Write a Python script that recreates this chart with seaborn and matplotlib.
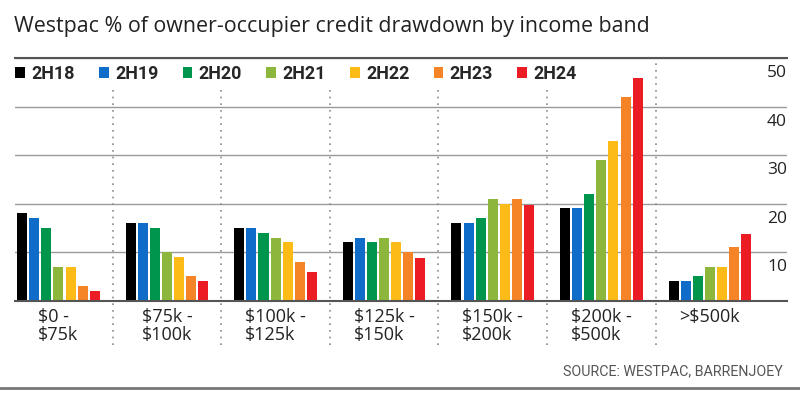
import pandas as pd
import matplotlib.pyplot as plt
import matplotlib.transforms as mtransforms
from matplotlib.lines import Line2D
import seaborn as sns

# ---- data ----
bands = ["$0 -\n$75k", "$75k -\n$100k", "$100k -\n$125k", "$125k -\n$150k",
         "$150k -\n$200k", "$200k -\n$500k", ">$500k"]
periods = ["2H18", "2H19", "2H20", "2H21", "2H22", "2H23", "2H24"]
v_2h18 = [18, 16, 15, 12, 16, 19, 4]
v_2h19 = [17, 16, 15, 13, 16, 19, 4]
v_2h20 = [15, 15, 14, 12, 17, 22, 5]
v_2h21 = [7, 10, 13, 13, 21, 29, 7]
v_2h22 = [7, 9, 12, 12, 20, 33, 7]
v_2h23 = [3, 5, 8, 10, 21, 42, 11]
v_2h24 = [2, 4, 6, 8.8, 19.8, 45.8, 13.8]
y_ticks = [10, 20, 30, 40, 50]

colors = ["#000000", "#0f6cc9", "#00954c", "#8cb63c", "#fdbb18", "#f58426", "#ec1c24"]

series = [v_2h18, v_2h19, v_2h20, v_2h21, v_2h22, v_2h23, v_2h24]
rows = []
for p, vals in zip(periods, series):
    for b, v in zip(bands, vals):
        rows.append({"band": b, "period": p, "value": v})
df = pd.DataFrame(rows)

sns.set_style("white")
plt.rcParams["font.family"] = ["Open Sans", "DejaVu Sans"]

fig = plt.figure(figsize=(8, 3.96), dpi=100)
ax = fig.add_axes([15 / 800, 95.3 / 396, 772 / 800, 242.7 / 396])

sns.barplot(data=df, x="band", y="value", hue="period", order=bands,
            hue_order=periods, palette=colors, width=0.78, gap=0.17,
            saturation=1, ax=ax, linewidth=0)

ax.set_xlim(-0.4, 6.71)
ax.set_ylim(0, 50)
ax.set_xlabel("")
ax.set_ylabel("")

# grid + spines
ax.set_yticks([0] + y_ticks)
ax.set_yticklabels([])
ax.tick_params(axis="y", length=0)
ax.yaxis.grid(True, color="#9a9a9a", linewidth=1)
ax.set_axisbelow(True)
for side in ["left", "right"]:
    ax.spines[side].set_visible(False)
ax.spines["top"].set_color("#555555")
ax.spines["top"].set_linewidth(1.5)
ax.spines["bottom"].set_color("#555555")
ax.spines["bottom"].set_linewidth(1.5)

# y labels sit inside, under each gridline at the right edge
trans = mtransforms.blended_transform_factory(ax.transAxes, ax.transData)
trans = mtransforms.offset_copy(trans, fig=fig, y=-15, units="dots")
for t in y_ticks:
    ax.text(1.0, t, str(t), transform=trans, ha="right", va="center",
            fontsize=12.5, color="#222222")

# x labels
ax.set_xticks(range(len(bands)))
ax.set_xticklabels(bands, fontsize=13, color="#222222", multialignment="left",
                   linespacing=1.05)
ax.tick_params(axis="x", length=0, pad=5)

# dotted separators between groups
for i in range(len(bands) - 1):
    top = 49.6 if i == len(bands) - 2 else 43.8
    ax.vlines(i + 0.5, -9.2, top, colors="#8a8a8a", linewidth=1.2,
              linestyles=(0, (1, 3)), clip_on=False)

# legend
sns.move_legend(ax, "center left", bbox_to_anchor=(0.0, 0.934), ncol=7,
                frameon=False, title=None, handlelength=0.55, handleheight=0.55,
                handletextpad=0.35, columnspacing=1.35, borderaxespad=0,
                borderpad=0, prop={"family": "Roboto", "weight": "bold", "size": 12.9})

# title, source, bottom rule
fig.text(14 / 800, 1 - 31.7 / 396, "Westpac % of owner-occupier credit drawdown by income band",
         fontsize=15.4, color="#222222", va="baseline", ha="left")
fig.text(783 / 800, 24.3 / 396, "SOURCE: WESTPAC, BARRENJOEY", fontsize=10.3,
         color="#555555", ha="right", va="center", family="Roboto")
fig.add_artist(Line2D([0, 1], [7.7 / 396, 7.7 / 396], color="#777777", linewidth=2,
                      transform=fig.transFigure))

fig.savefig("out.png", dpi=100)
